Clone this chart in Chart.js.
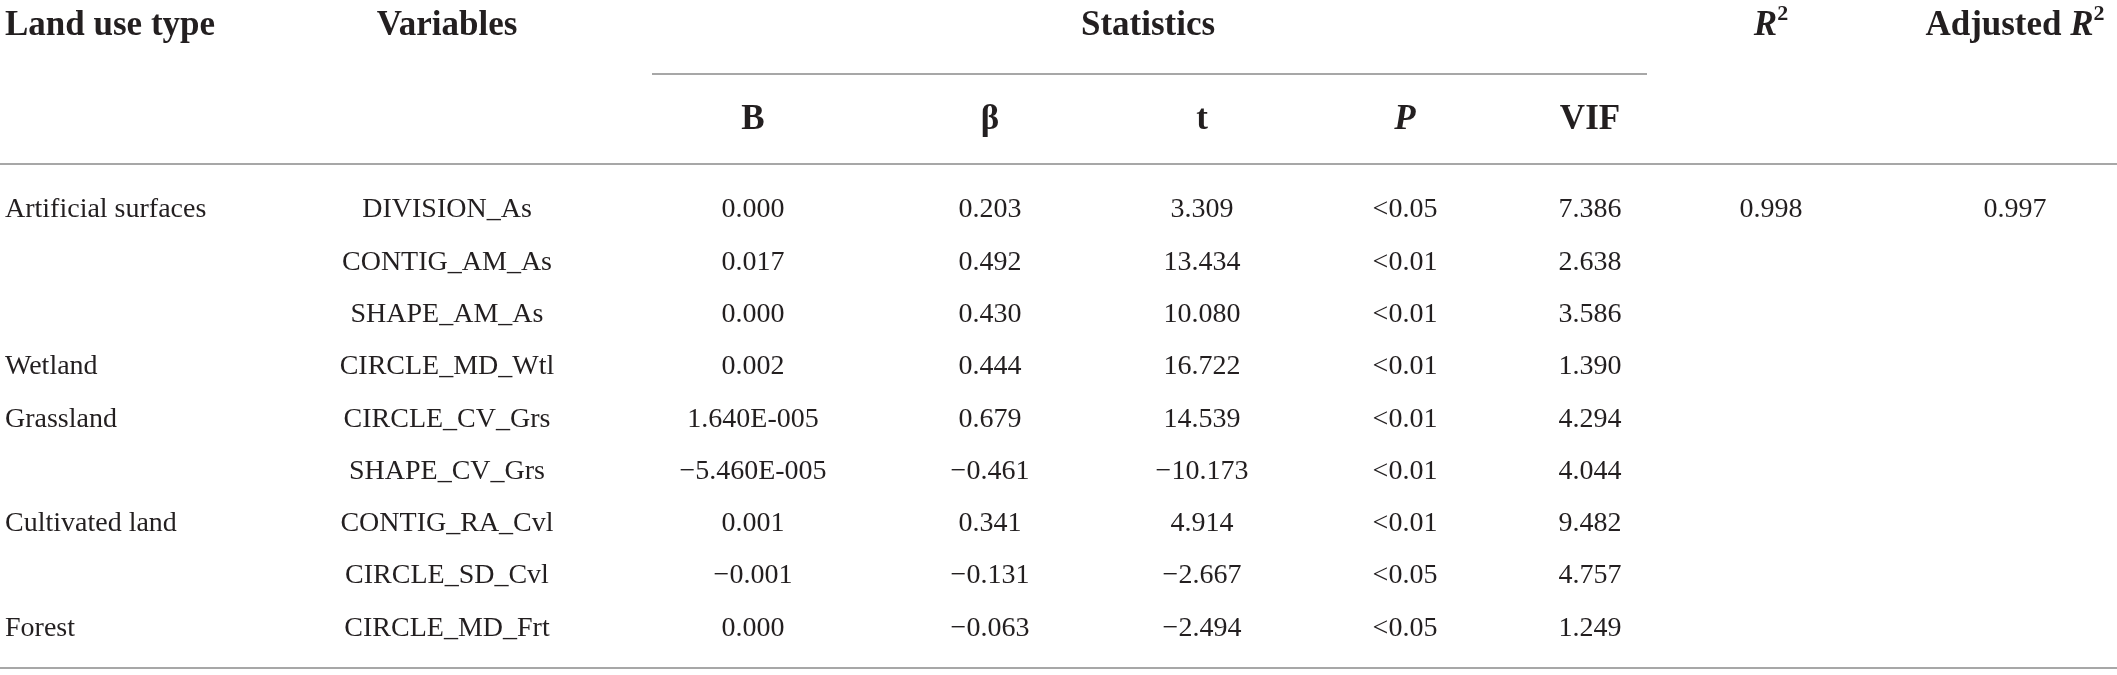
<!DOCTYPE html>
<html>
<head>
<meta charset="utf-8">
<script src="https://cdn.jsdelivr.net/npm/chart.js@4.4.1/dist/chart.umd.min.js"></script>
<style>
  html, body { margin: 0; padding: 0; background: #fff; }
  canvas { display: block; }
</style>
</head>
<body>
<canvas id="tbl" width="2117" height="675"></canvas>
<script>
// table contents
const landUse = ['Artificial surfaces', '', '', 'Wetland', 'Grassland', '', 'Cultivated land', '', 'Forest'];
const variables = ['DIVISION_As', 'CONTIG_AM_As', 'SHAPE_AM_As', 'CIRCLE_MD_Wtl', 'CIRCLE_CV_Grs',
    'SHAPE_CV_Grs', 'CONTIG_RA_Cvl', 'CIRCLE_SD_Cvl', 'CIRCLE_MD_Frt'];
const coefB = ['0.000', '0.017', '0.000', '0.002', '1.640E-005', '\u22125.460E-005', '0.001', '\u22120.001', '0.000'];
const beta = ['0.203', '0.492', '0.430', '0.444', '0.679', '\u22120.461', '0.341', '\u22120.131', '\u22120.063'];
const tStat = ['3.309', '13.434', '10.080', '16.722', '14.539', '\u221210.173', '4.914', '\u22122.667', '\u22122.494'];
const pValue = ['<0.05', '<0.01', '<0.01', '<0.01', '<0.01', '<0.01', '<0.01', '<0.05', '<0.05'];
const vif = ['7.386', '2.638', '3.586', '1.390', '4.294', '4.044', '9.482', '4.757', '1.249'];
const rSquared = ['0.998'];
const adjRSquared = ['0.997'];

// layout (pixel units of the linear scales)
const W = 2117, H = 675;
const colX = { land: 5, vars: 447, stats: 1148, b: 753, beta: 990, t: 1202, p: 1405, vif: 1590, r2: 1771, adj: 2015 };
const headY = 26, subY = 120, rowTop = 210, rowStep = 52.3;
const rowY = i => rowTop + i * rowStep;

const textColor = '#231f20';
const ruleColor = '#a7a7a7';
const serif = '"Liberation Serif", "Times New Roman", serif';
const bodyFont = '28px ' + serif;
const headFont = 'bold 35px ' + serif;
const headItalic = 'italic bold 35px ' + serif;
const supFont = 'bold 22px ' + serif;

function column(values, x, align) {
    return {
        type: 'scatter',
        data: values.map((v, i) => ({ x: x, y: rowY(i) })),
        cells: values.map(v => [{ text: v, font: bodyFont }]),
        align: align || 'center',
        pointRadius: 0,
        showLine: false
    };
}

function header(runs, x, y, align) {
    return {
        type: 'scatter',
        data: [{ x: x, y: y }],
        cells: [runs],
        align: align || 'center',
        pointRadius: 0,
        showLine: false
    };
}

function rule(x0, x1, y) {
    return {
        type: 'line',
        data: [{ x: x0, y: y }, { x: x1, y: y }],
        borderColor: ruleColor,
        borderWidth: 2,
        pointRadius: 0,
        fill: false
    };
}

const datasets = [
    rule(652, 1647, 74),
    rule(0, W, 164),
    rule(0, W, 668),
    header([{ text: 'Land use type', font: headFont }], colX.land, headY, 'left'),
    header([{ text: 'Variables', font: headFont }], colX.vars, headY),
    header([{ text: 'Statistics', font: headFont }], colX.stats, headY),
    header([{ text: 'R', font: headItalic }, { text: '2', font: supFont, rise: 12 }], colX.r2, headY),
    header([{ text: 'Adjusted ', font: headFont }, { text: 'R', font: headItalic }, { text: '2', font: supFont, rise: 12 }], colX.adj, headY),
    header([{ text: 'B', font: headFont }], colX.b, subY),
    header([{ text: '\u03b2', font: headFont }], colX.beta, subY),
    header([{ text: 't', font: headFont }], colX.t, subY),
    header([{ text: 'P', font: headItalic }], colX.p, subY),
    header([{ text: 'VIF', font: headFont }], colX.vif, subY),
    column(landUse, colX.land, 'left'),
    column(variables, colX.vars),
    column(coefB, colX.b),
    column(beta, colX.beta),
    column(tStat, colX.t),
    column(pValue, colX.p),
    column(vif, colX.vif),
    column(rSquared, colX.r2),
    column(adjRSquared, colX.adj)
];

// draws the cell text at each point the scales placed
const cellText = {
    id: 'cellText',
    afterDatasetsDraw(chart) {
        const ctx = chart.ctx;
        ctx.save();
        ctx.fillStyle = textColor;
        ctx.textBaseline = 'middle';
        ctx.textAlign = 'left';
        chart.data.datasets.forEach((ds, di) => {
            if (!ds.cells) return;
            const meta = chart.getDatasetMeta(di);
            meta.data.forEach((pt, i) => {
                const runs = ds.cells[i];
                let total = 0;
                runs.forEach(r => { ctx.font = r.font; total += ctx.measureText(r.text).width; });
                let x = ds.align === 'left' ? pt.x : pt.x - total / 2;
                runs.forEach(r => {
                    ctx.font = r.font;
                    ctx.fillText(r.text, x, pt.y - (r.rise || 0));
                    x += ctx.measureText(r.text).width;
                });
            });
        });
        ctx.restore();
    }
};

new Chart(document.getElementById('tbl'), {
    type: 'scatter',
    data: { datasets: datasets },
    options: {
        responsive: false,
        devicePixelRatio: 1,
        animation: false,
        events: [],
        layout: { padding: 0 },
        plugins: { legend: { display: false }, tooltip: { enabled: false } },
        scales: {
            x: { type: 'linear', min: 0, max: W, display: false },
            y: { type: 'linear', min: 0, max: H, reverse: true, display: false }
        }
    },
    plugins: [cellText]
});
</script>
</body>
</html>
